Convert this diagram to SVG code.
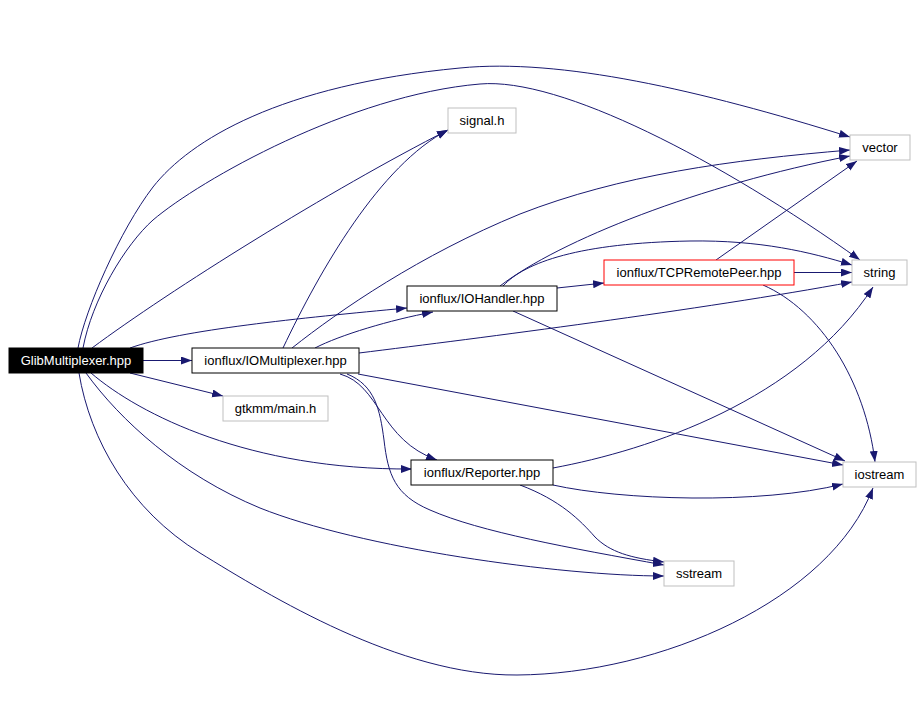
<svg xmlns="http://www.w3.org/2000/svg" width="923" height="728" viewBox="0 0 923 728">
<style>
.e{fill:none;stroke:#191970;stroke-width:1;marker-end:url(#arr)}
.n rect{stroke-width:1}
.n text{font-family:"Liberation Sans",Arial,sans-serif;font-size:13px;text-anchor:middle;fill:#000}
.doc rect{fill:#fff;stroke:#000}
.ext rect{fill:#fff;stroke:#bfbfbf}
</style>
<defs>
<marker id="arr" markerUnits="userSpaceOnUse" markerWidth="12" markerHeight="9" refX="11" refY="4" orient="auto">
<path d="M0,0 L11,4 L0,8 z" fill="#191970"/>
</marker>
</defs>
<rect width="923" height="728" fill="#fff"/>
<g id="edges">
<path class="e" d="M143,360.5 L192,360.5"/>
<path class="e" d="M130,373 L223,396"/>
<path class="e" d="M92,348 C170,290 330,190 448,130"/>
<path class="e" d="M283,348 C320,270 380,165 448,130"/>
<path class="e" d="M78,348 C85,310 120,230 153,187 C190,140 280,85 460,68 C560,58 700,90 850,137"/>
<path class="e" d="M83,348 C92,300 125,245 153,220 C200,180 350,95 480,84 C560,77 720,160 860,260"/>
<path class="e" d="M130,348 C180,330 300,318 407,308"/>
<path class="e" d="M91,373 C140,415 250,470 412,469"/>
<path class="e" d="M86,373 C120,420 180,475 260,508 C360,548 560,576 664,576"/>
<path class="e" d="M79,373 C90,440 130,510 200,553 C270,596 400,676 517,675 C660,674 830,600 873,488"/>
<path class="e" d="M315,348 C340,335 390,320 433,312"/>
<path class="e" d="M292,348 C340,310 420,255 520,214 C620,175 730,160 850,150"/>
<path class="e" d="M359,353 C480,338 700,310 852,282"/>
<path class="e" d="M358,374 L843,465"/>
<path class="e" d="M340,374 C380,385 380,440 437,460"/>
<path class="e" d="M347,374 C375,385 380,410 384,440 C388,475 395,495 430,510 C480,532 570,548 664,565"/>
<path class="e" d="M557,288 L604,283"/>
<path class="e" d="M500,286 C560,240 700,185 850,156"/>
<path class="e" d="M503,286 C525,262 580,243 690,241 C760,240 810,252 852,265"/>
<path class="e" d="M513,311 L845,461"/>
<path class="e" d="M716,260 L857,161"/>
<path class="e" d="M794,272.5 L852,272.5"/>
<path class="e" d="M763,285 C820,310 865,380 875,462"/>
<path class="e" d="M553,468 C650,450 800,400 873,287"/>
<path class="e" d="M553,485 C620,500 760,505 843,484"/>
<path class="e" d="M520,485 C560,500 580,520 595,537 C610,552 630,558 664,562"/>
</g>
<g id="node-glib" class="n"><rect x="9" y="348" width="134" height="25" fill="#000" stroke="#000"/><text x="76" y="365" style="fill:#fff">GlibMultiplexer.hpp</text></g>
<g id="node-iomux" class="n doc"><rect x="192" y="348" width="167" height="25"/><text x="275.5" y="365">ionflux/IOMultiplexer.hpp</text></g>
<g id="node-gtkmm" class="n ext"><rect x="223" y="396" width="105" height="25"/><text x="275.5" y="413">gtkmm/main.h</text></g>
<g id="node-signal" class="n ext"><rect x="448" y="108" width="68" height="25"/><text x="482" y="125">signal.h</text></g>
<g id="node-iohandler" class="n doc"><rect x="407" y="286" width="150" height="25"/><text x="482" y="303">ionflux/IOHandler.hpp</text></g>
<g id="node-reporter" class="n doc"><rect x="411" y="460" width="142" height="25"/><text x="482" y="477">ionflux/Reporter.hpp</text></g>
<g id="node-tcp" class="n"><rect x="604" y="260" width="190" height="25" fill="#fff" stroke="#ff0000"/><text x="699" y="277">ionflux/TCPRemotePeer.hpp</text></g>
<g id="node-sstream" class="n ext"><rect x="664" y="561" width="70" height="25"/><text x="699" y="578">sstream</text></g>
<g id="node-vector" class="n ext"><rect x="850" y="135" width="60" height="25"/><text x="880" y="152">vector</text></g>
<g id="node-string" class="n ext"><rect x="852" y="260" width="55" height="25"/><text x="879.5" y="277">string</text></g>
<g id="node-iostream" class="n ext"><rect x="843" y="462" width="73" height="25"/><text x="879.5" y="479">iostream</text></g>
</svg>
